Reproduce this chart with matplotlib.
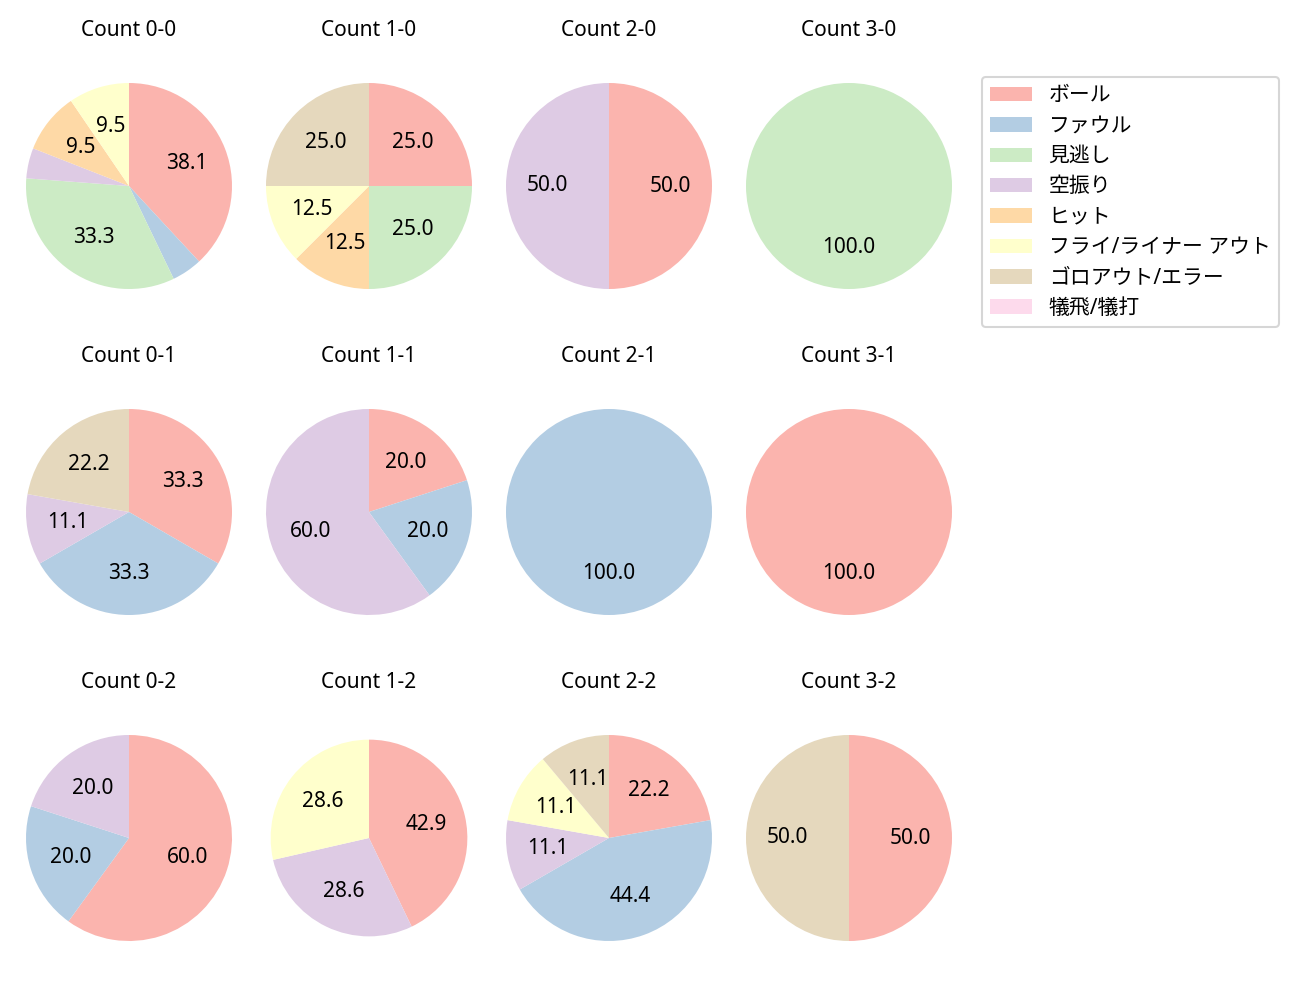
import matplotlib.pyplot as plt
import numpy as np

plt.rcParams['font.family'] = ['Noto Sans', 'Noto Sans CJK JP']

categories = ['ボール', 'ファウル', '見逃し', '空振り', 'ヒット',
              'フライ/ライナー アウト', 'ゴロアウト/エラー', '犠飛/犠打']
colors = plt.get_cmap('Pastel1').colors[:8]

# pitch counts per ball-strike count (order follows categories)
count_0_0 = [8, 1, 7, 1, 2, 2, 0, 0]
count_1_0 = [2, 0, 2, 0, 1, 1, 2, 0]
count_2_0 = [1, 0, 0, 1, 0, 0, 0, 0]
count_3_0 = [0, 0, 1, 0, 0, 0, 0, 0]
count_0_1 = [3, 3, 0, 1, 0, 0, 2, 0]
count_1_1 = [1, 1, 0, 3, 0, 0, 0, 0]
count_2_1 = [0, 1, 0, 0, 0, 0, 0, 0]
count_3_1 = [1, 0, 0, 0, 0, 0, 0, 0]
count_0_2 = [3, 1, 0, 1, 0, 0, 0, 0]
count_1_2 = [3, 0, 0, 2, 0, 2, 0, 0]
count_2_2 = [2, 4, 0, 1, 0, 1, 1, 0]
count_3_2 = [1, 0, 0, 0, 0, 0, 1, 0]

count_names = ['0-0', '1-0', '2-0', '3-0',
               '0-1', '1-1', '2-1', '3-1',
               '0-2', '1-2', '2-2', '3-2']
count_data = [count_0_0, count_1_0, count_2_0, count_3_0,
              count_0_1, count_1_1, count_2_1, count_3_1,
              count_0_2, count_1_2, count_2_2, count_3_2]

W, H = 1300, 1000
dpi = 150
fig = plt.figure(figsize=(W / dpi, H / dpi), dpi=dpi)

r_px = 103
box = 2.5 * r_px
col_x = [129, 369, 609, 849]
row_y = [186, 512, 838]

wedges0 = None
for i, (name, vals) in enumerate(zip(count_names, count_data)):
    cx = col_x[i % 4]
    cy = row_y[i // 4]
    ax = fig.add_axes([(cx - box / 2) / W, 1 - (cy + box / 2) / H, box / W, box / H])
    radius = 0.955 if name == '1-2' else 1.0
    wedges, texts, autotexts = ax.pie(
        vals, colors=colors, startangle=90, counterclock=False, radius=radius,
        autopct=lambda p: f'{p:.1f}' if p >= 5 else '')
    for t in autotexts:
        t.set_fontsize(10)
    ax.set_title('Count ' + name, fontsize=10, pad=10.3)
    if wedges0 is None:
        wedges0 = wedges

fig.legend(wedges0, categories, loc='upper left',
           bbox_to_anchor=(982 / W, 1 - 77 / H), borderaxespad=0, fontsize=10,
           labelspacing=0.45)

plt.savefig('out.png', dpi=dpi)
